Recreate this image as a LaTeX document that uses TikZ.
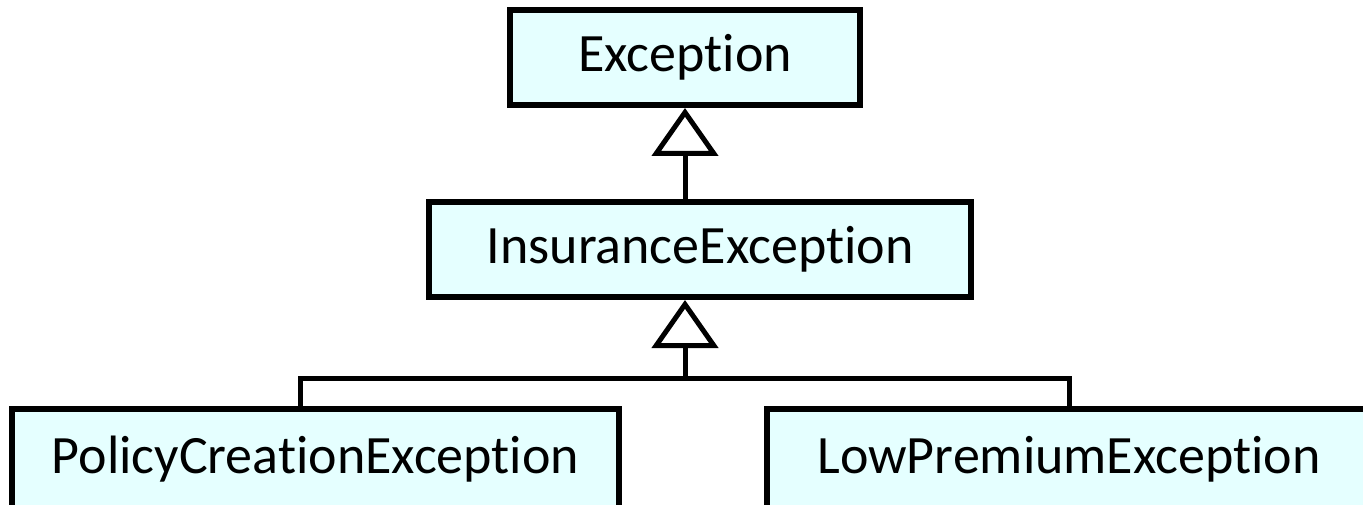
\documentclass[tikz,border=0pt]{standalone}
\usepackage{fontspec}
\setmainfont{Carlito}[Ligatures=NoCommon]
\usetikzlibrary{positioning, arrows.meta}
\definecolor{boxfill}{RGB}{229,255,255}

\begin{document}
\begin{tikzpicture}[x=1pt, y=-1pt,
    cls/.style={draw, line width=6pt, fill=boxfill, minimum height=95pt, inner sep=0pt, font=\fontsize{54}{64}\selectfont},
    line/.style={line width=5pt},
    inherit/.style={line width=5pt, -{Triangle[open, length=48pt, width=66pt]}}]
    \clip (0,0) rectangle (1363,505);
    \useasboundingbox (0,0) rectangle (1363,505);
    \node[cls, minimum width=350pt] (exc) at (685,57.5) {Exception};
    \node[cls, minimum width=542pt] (ins) at (700,249.5) {InsuranceException};
    \node[cls, minimum width=607pt, minimum height=100pt] (pol) at (315.5,459) {PolicyCreationException};
    \node[cls, minimum width=604pt, minimum height=100pt] (low) at (1069,459) {LowPremiumException};
    \coordinate (join) at (685,378);
    % generalisation arrows
    \draw[inherit] (ins.north -| exc.south) -- (exc.south);
    \draw[inherit] (join) -- (exc.south |- ins.south);
    \draw[line] ([xshift=-15.5pt]pol.north) |- (join) -| (low.north);
\end{tikzpicture}
\end{document}
